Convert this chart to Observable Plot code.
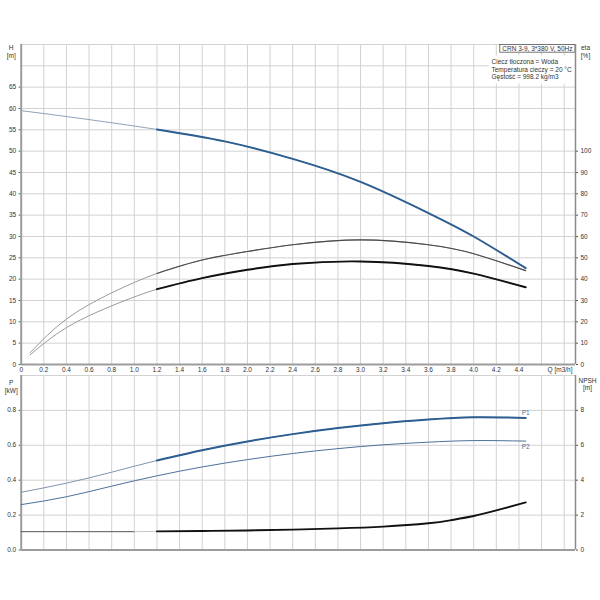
<!DOCTYPE html>
<html><head><meta charset="utf-8">
<script src="https://cdn.jsdelivr.net/npm/d3@7"></script>
<script src="https://cdn.jsdelivr.net/npm/@observablehq/plot@0.6"></script>
<style>
body{margin:0;background:#fff;}
#c{position:relative;width:600px;height:600px;background:#fff;}
#c svg{position:absolute;left:0;}
</style></head><body><div id="c"></div>
<script>
// ---- data ----
const qH = [0,0.6,1.2,1.8,2.4,3.0,3.6,4.0,4.46];
const headM = [59.5,57.4,55.1,52.3,48.2,42.8,35.5,30.0,22.6];
const qEta = [0.08,0.4,0.8,1.2,1.6,2.0,2.4,3.0,3.6,4.0,4.46];
const etaPump = [5.6,21.3,33.6,42.7,49,53,56.1,58.4,56.1,51.9,44];
const etaTotal = [4.6,17.3,27.5,35.3,40.5,44.4,47.1,48.3,46.2,42.6,36.2];
const qP = [0,0.4,0.8,1.2,1.6,2.0,2.4,2.8,3.2,3.6,4.0,4.46];
const p1 = [0.331,0.383,0.446,0.513,0.572,0.622,0.664,0.699,0.727,0.748,0.761,0.757];
const p2 = [0.26,0.305,0.366,0.425,0.476,0.518,0.553,0.581,0.603,0.618,0.627,0.624];
const qNpshLow = [0,1.0];
const npshLow = [1.05,1.05];
const qNpsh = [1.2,1.6,2.0,2.4,2.8,3.2,3.6,3.8,4.0,4.2,4.46];
const npsh = [1.07,1.09,1.12,1.17,1.24,1.34,1.53,1.71,1.95,2.27,2.73];

const qTicks = [0,0.2,0.4,0.6,0.8,1.0,1.2,1.4,1.6,1.8,2.0,2.2,2.4,2.6,2.8,3.0,3.2,3.4,3.6,3.8,4.0,4.2,4.4];
const qGrid = [0.2,0.4,0.6,0.8,1.0,1.2,1.4,1.6,1.8,2.0,2.2,2.4,2.6,2.8,3.0,3.2,3.4,3.6,3.8,4.0,4.2,4.4,4.6,4.8];
const hTicks = [0,5,10,15,20,25,30,35,40,45,50,55,60,65];
const hGrid = [5,10,15,20,25,30,35,40,45,50,55,60,65,70,75];
const etaTicks = [0,10,20,30,40,50,60,70,80,90,100];
const pTicks = [0,0.2,0.4,0.6,0.8];
const pGrid = [0.2,0.4,0.6,0.8,1.0];
const npshTicks = [0,2,4,6,8];
const legendTitle = "CRN 3-9, 3*380 V, 50Hz";
const legendLines = ["Ciecz tłoczona = Woda","Temperatura cieczy = 20 °C","Gęstość = 998.2 kg/m3"];

const toRows = (qs, vs) => qs.map((q,i)=>({q, v: vs[i]}));
const hData = toRows(qH, headM);
const epData = toRows(qEta, etaPump);
const etData = toRows(qEta, etaTotal);
const p1Data = toRows(qP, p1);
const p2Data = toRows(qP, p2);
const nLow = toRows(qNpshLow, npshLow);
const nData = toRows(qNpsh, npsh);
const nGap = [nLow[nLow.length-1], nData[0]];
const thick = d => d.q >= 1.2;

const FONT = "'Liberation Sans', Arial, sans-serif";
const gridStyle = {stroke:"#d2d2d2", strokeOpacity:1, strokeWidth:1};
const axisLine = {stroke:"#9c9c9c", strokeWidth:2};
const BLUE = "#2d5e91";
const xfmt = d => d === 0 ? "0" : d.toFixed(1);
const C = "natural";

const topPlot = Plot.plot({
  width: 600, height: 376,
  marginLeft: 20.7, marginRight: 25, marginTop: 44, marginBottom: 12,
  x: {domain: [0, 4.9]},
  y: {domain: [0, 75]},
  style: {fontFamily: FONT, fontSize: "6.5px", color: "#333", background: "transparent"},
  marks: [
    Plot.gridX(qGrid, gridStyle),
    Plot.gridY(hGrid, gridStyle),
    Plot.text([legendLines.join("\n")], {text: d=>d, frameAnchor:"top-right", dx:-84, dy:13.5, textAnchor:"start", lineAnchor:"top", lineHeight:1.22, fill:"#333", className:"legbody"}),
    Plot.text([legendTitle], {text: d=>d, frameAnchor:"top-right", dx:-3, dy:4.3, textAnchor:"end", lineAnchor:"middle", fill:"#333", className:"legtitle"}),
    Plot.axisY(hTicks, {anchor:"left", tickSize:2, tickPadding:3, label:null, stroke:"#555"}),
    Plot.axisY(etaTicks.map(e=>e/2), {anchor:"right", tickSize:2, tickPadding:3, label:null, tickFormat: d => String(Math.round(d*2)), stroke:"#555"}),
    Plot.axisX(qTicks, {anchor:"bottom", tickSize:0, tickPadding:3, label:null, tickFormat: xfmt}),
    Plot.text(["H\n[m]"], {text:d=>d, frameAnchor:"top-left", dx:-10, dy:0, textAnchor:"middle", lineAnchor:"top", lineHeight:1.25}),
    Plot.text(["eta\n[%]"], {text:d=>d, frameAnchor:"top-right", dx:10, dy:0, textAnchor:"middle", lineAnchor:"top", lineHeight:1.25}),
    Plot.text(["Q [m3/h]"], {text:d=>d, frameAnchor:"bottom-right", dx:-3, dy:3, textAnchor:"end", lineAnchor:"top"}),
    Plot.ruleX([0], axisLine),
    Plot.ruleY([0], axisLine),
    Plot.ruleX([4.9], {stroke:"#8a8a8a", strokeWidth:1.5}),
    // efficiency curves (eta scale = 2 x H scale)
    Plot.line(epData, {x:"q", y:d=>d.v/2, stroke:"#9a9a9a", strokeWidth:1, curve:C}),
    Plot.line(epData.filter(thick), {x:"q", y:d=>d.v/2, stroke:"#4a4a4a", strokeWidth:1.1, curve:C}),
    Plot.line(etData, {x:"q", y:d=>d.v/2, stroke:"#9a9a9a", strokeWidth:1, curve:C}),
    Plot.line(etData.filter(thick), {x:"q", y:d=>d.v/2, stroke:"#111", strokeWidth:1.9, curve:C}),
    // head curve
    Plot.line(hData, {x:"q", y:"v", stroke:"#8ea3bb", strokeWidth:1, curve:C}),
    Plot.line(hData.filter(thick), {x:"q", y:"v", stroke:BLUE, strokeWidth:2, curve:C})
  ]
});

const botPlot = Plot.plot({
  width: 600, height: 204,
  marginLeft: 20.7, marginRight: 25, marginTop: 10, marginBottom: 19.5,
  x: {domain: [0, 4.9], axis: null},
  y: {domain: [0, 1.0], axis: null},
  style: {fontFamily: FONT, fontSize: "6.5px", color: "#333", background: "transparent"},
  marks: [
    Plot.gridX(qGrid, gridStyle),
    Plot.gridY(pGrid, gridStyle),
    Plot.axisY(pTicks, {anchor:"left", tickSize:2, tickPadding:3, label:null, tickFormat: d=>d.toFixed(1), stroke:"#555"}),
    Plot.axisY(npshTicks.map(n=>n/10), {anchor:"right", tickSize:2, tickPadding:3, label:null, tickFormat: d=>String(Math.round(d*10)), stroke:"#555"}),
    Plot.text(["P\n[kW]"], {text:d=>d, frameAnchor:"top-left", dx:-10, dy:4, textAnchor:"middle", lineAnchor:"top", lineHeight:1.2}),
    Plot.text(["NPSH\n[m]"], {text:d=>d, frameAnchor:"top-right", dx:12, dy:1.5, textAnchor:"middle", lineAnchor:"top", lineHeight:1.2}),
    Plot.ruleX([0], axisLine),
    Plot.ruleY([0], axisLine),
    Plot.ruleX([4.9], {stroke:"#8a8a8a", strokeWidth:1.5}),
    // NPSH (NPSH scale = 10 x P scale)
    Plot.line(nLow, {x:"q", y:d=>d.v/10, stroke:"#555", strokeWidth:1, curve:C}),
    Plot.line(nGap, {x:"q", y:d=>d.v/10, stroke:"#c8c8c8", strokeWidth:1}),
    Plot.line(nData, {x:"q", y:d=>d.v/10, stroke:"#111", strokeWidth:1.9, curve:C}),
    // P2
    Plot.line(p2Data, {x:"q", y:"v", stroke:"#4d709a", strokeWidth:1, curve:C}),
    // P1
    Plot.line(p1Data, {x:"q", y:"v", stroke:"#7f95af", strokeWidth:1, curve:C}),
    Plot.line(p1Data.filter(thick), {x:"q", y:"v", stroke:BLUE, strokeWidth:2, curve:C}),
    Plot.text([p1Data[p1Data.length-1]], {x:"q", y:"v", text:()=>"P1", dx:-4, dy:-5, textAnchor:"start", fill:"#4d6f96"}),
    Plot.text([p2Data[p2Data.length-1]], {x:"q", y:"v", text:()=>"P2", dx:-4, dy:5.5, textAnchor:"start", fill:"#4d6f96"})
  ]
});

const cont = document.getElementById("c");
botPlot.style.top = "365px";
topPlot.style.top = "0px";
cont.appendChild(botPlot);
cont.appendChild(topPlot);

// boxes around the legend texts (sized from their rendered text)
function boxFor(cls, padX, padY, fill, stroke) {
  const g = d3.select(topPlot).select("g." + cls);
  if (g.empty()) return;
  const bb = g.node().getBBox();
  g.insert("rect", ":first-child")
    .attr("x", bb.x - padX).attr("y", bb.y - padY)
    .attr("width", bb.width + 2*padX).attr("height", bb.height + 2*padY)
    .attr("fill", fill).attr("stroke", stroke).attr("stroke-width", stroke === "none" ? 0 : 0.8);
}
boxFor("legbody", 3, 2, "#fff", "none");
boxFor("legtitle", 2.5, 0.3, "#fff", "#555");
</script></body></html>
